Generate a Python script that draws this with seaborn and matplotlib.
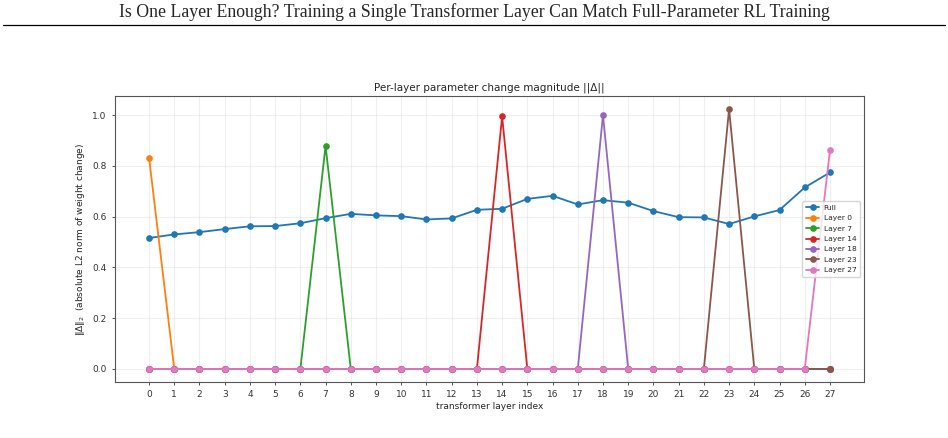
import numpy as np
import pandas as pd
import seaborn as sns
import matplotlib.pyplot as plt
from matplotlib.lines import Line2D

# Values
layers = list(range(28))
full_change = [0.516, 0.530, 0.539, 0.551, 0.562, 0.563, 0.574, 0.594, 0.611, 0.605,
               0.602, 0.589, 0.593, 0.627, 0.631, 0.670, 0.682, 0.648, 0.665, 0.655,
               0.622, 0.598, 0.597, 0.571, 0.601, 0.626, 0.715, 0.774]
single_layers = [0, 7, 14, 18, 23, 27]
single_peaks = [0.832, 0.879, 0.995, 1.000, 1.024, 0.862]

# Build the table: "Full" plus one row per single-layer run (zeros except trained layer)
rows = []
for l, v in zip(layers, full_change):
    rows.append({'layer': l, 'delta': v, 'run': 'Full'})
for tl, pk in zip(single_layers, single_peaks):
    for l in layers:
        rows.append({'layer': l, 'delta': pk if l == tl else 0.0, 'run': 'Layer {}'.format(tl)})
df = pd.DataFrame(rows)
run_order = ['Full'] + ['Layer {}'.format(tl) for tl in single_layers]

sns.set_style("white")
plt.rcParams['font.family'] = ['DejaVu Sans']

fig = plt.figure(figsize=(9.48, 4.38), dpi=100)

# page header of the screenshot
fig.text(0.5, 0.972, 'Is One Layer Enough? Training a Single Transformer Layer Can Match Full-Parameter RL Training',
         ha='center', va='center', fontsize=12.8, family=['Liberation Serif'])
fig.add_artist(Line2D([0.003, 0.997], [0.942, 0.942], color='black', lw=0.9))

ax = fig.add_axes([115 / 948, 1 - 382 / 438, (864 - 115) / 948, (382 - 96) / 438])
palette = sns.color_palette('tab10', len(run_order))
for i, run in enumerate(run_order):
    d = df[df['run'] == run]
    sns.lineplot(data=d, x='layer', y='delta', ax=ax, color=palette[i], label=run,
                 marker='o', markersize=4.8, markeredgewidth=0, linewidth=1.3)

ax.set_xticks(layers)
ax.tick_params(labelsize=6.5, length=2.5, width=0.6, colors='#333333', bottom=True, left=True)
ax.grid(True, alpha=0.3)
for s in ax.spines.values():
    s.set_color('#555555')
    s.set_linewidth(0.8)
ax.set_title('Per-layer parameter change magnitude ||Δ||', fontsize=7.5, pad=4)
ax.set_xlabel('transformer layer index', fontsize=6.5, labelpad=2)
ax.set_ylabel(r'$\|\Delta\|_2$  (absolute L2 norm of weight change)', fontsize=6.5, labelpad=4)
ax.legend(loc='center right', fontsize=5.4, frameon=True, handlelength=1.8, borderpad=0.5,
          labelspacing=0.55, handletextpad=0.6)

plt.savefig('out.png', dpi=100)
plt.close('all')
